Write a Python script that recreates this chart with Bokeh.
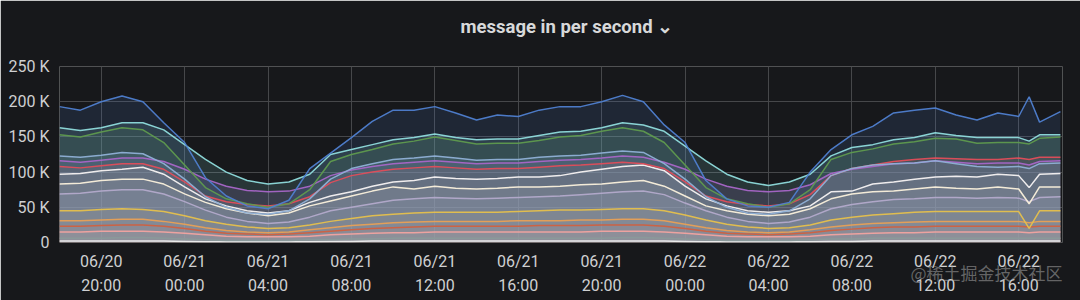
from bokeh.plotting import figure
from bokeh.models import Range1d, FixedTicker, Label
from bokeh.embed import file_html
from bokeh.resources import INLINE

# ---- data (thousands of messages / s), hours since 06/20 18:00 ----
HOURS = [0, 1, 2, 3, 4, 5, 6, 7, 8, 9, 10, 11, 12,
         13, 14, 15, 16, 17, 18, 19, 20, 21, 22, 23, 24,
         25, 26, 27, 28, 29, 30, 31, 32, 33, 34, 35, 36,
         37, 38, 39, 40, 41, 42, 43, 44, 45, 46, 46.5, 47, 48]

TICK_HOURS = [2, 6, 10, 14, 18, 22, 26, 30, 34, 38, 42, 46]
TICK_LABELS = ["06/20\n20:00", "06/21\n00:00", "06/21\n04:00", "06/21\n08:00",
               "06/21\n12:00", "06/21\n16:00", "06/21\n20:00", "06/22\n00:00",
               "06/22\n04:00", "06/22\n08:00", "06/22\n12:00", "06/22\n16:00"]
Y_TICKS = [0, 50, 100, 150, 200, 250]
Y_LABELS = ["0", "50 K", "100 K", "150 K", "200 K", "250 K"]

blue = [193, 188, 200, 208, 200, 170, 142, 92, 66, 52, 48, 60, 105,
        127, 149, 172, 188, 188, 193, 184, 174, 181, 179, 188, 193,
        193, 200, 209, 200, 167, 142, 88, 62, 52, 50, 57, 100,
        132, 153, 165, 184, 188, 191, 181, 174, 184, 179, 207, 171, 186]
teal = [163, 159, 163, 170, 170, 160, 139, 118, 100, 88, 83, 86, 97,
        125, 132, 139, 146, 149, 154, 149, 146, 147, 147, 152, 157,
        158, 163, 170, 167, 158, 137, 116, 97, 86, 81, 86, 97,
        123, 135, 139, 146, 149, 156, 152, 149, 149, 149, 144, 153, 153]
green = [153, 150, 157, 163, 160, 142, 110, 78, 62, 55, 50, 55, 75,
         115, 125, 132, 140, 144, 150, 145, 140, 141, 141, 145, 150,
         152, 158, 163, 158, 142, 110, 78, 62, 55, 50, 55, 75,
         118, 128, 133, 140, 143, 148, 147, 141, 142, 142, 140, 148, 150]
steel = [123, 121, 124, 128, 126, 112, 90, 65, 50, 42, 40, 45, 62,
         90, 105, 112, 118, 120, 123, 120, 117, 118, 118, 121, 123,
         124, 127, 130, 128, 112, 90, 65, 50, 42, 40, 45, 62,
         95, 105, 110, 112, 113, 116, 112, 108, 107, 108, 105, 112, 113]
purple = [116, 114, 117, 120, 120, 115, 104, 90, 80, 74, 72, 73, 80,
          95, 103, 108, 112, 114, 116, 114, 112, 113, 113, 115, 117,
          118, 120, 123, 121, 114, 104, 90, 80, 74, 72, 74, 82,
          98, 104, 108, 112, 113, 116, 114, 112, 113, 113, 110, 115, 116]
red = [108, 106, 109, 112, 112, 104, 86, 66, 58, 54, 52, 55, 65,
       85, 95, 100, 104, 106, 108, 106, 104, 105, 105, 107, 109,
       110, 112, 114, 112, 105, 86, 66, 58, 54, 52, 55, 68,
       95, 105, 110, 115, 118, 120, 119, 118, 118, 120, 118, 121, 121]
white1 = [97, 98, 102, 104, 107, 97, 79, 62, 52, 45, 42, 45, 57,
          66, 72, 80, 86, 88, 93, 91, 90, 91, 93, 93, 95,
          100, 104, 108, 110, 102, 80, 62, 52, 45, 43, 45, 52,
          72, 73, 83, 86, 90, 93, 94, 93, 97, 95, 78, 97, 98]
white2 = [83, 84, 88, 90, 90, 83, 69, 57, 48, 42, 38, 42, 52,
          59, 66, 73, 79, 76, 80, 77, 76, 77, 79, 79, 80,
          82, 83, 86, 88, 80, 66, 52, 45, 40, 38, 40, 48,
          62, 69, 72, 73, 76, 79, 77, 76, 79, 76, 55, 79, 79]
lavender = [69, 70, 73, 75, 75, 69, 58, 46, 36, 30, 27, 29, 36,
            45, 50, 55, 60, 62, 64, 63, 62, 63, 64, 65, 66,
            68, 70, 72, 73, 68, 56, 45, 36, 30, 27, 29, 36,
            48, 54, 58, 61, 62, 64, 64, 63, 64, 63, 58, 64, 65]
yellow = [45, 45, 47, 48, 47, 44, 38, 31, 26, 22, 20, 21, 25,
          30, 34, 38, 40, 42, 43, 43, 43, 43, 44, 45, 46,
          46, 47, 48, 48, 45, 39, 32, 26, 22, 20, 21, 25,
          32, 36, 39, 41, 43, 44, 44, 44, 44, 44, 20, 45, 45]
orange = [31, 31, 32, 33, 33, 30, 26, 21, 17, 15, 14, 15, 18,
          21, 24, 26, 28, 29, 30, 30, 30, 30, 31, 31, 31,
          32, 32, 33, 33, 31, 26, 21, 17, 15, 14, 15, 18,
          22, 25, 27, 28, 29, 30, 30, 30, 30, 30, 28, 30, 30]
brick = [23, 23, 24, 25, 25, 23, 20, 16, 13, 12, 11, 12, 14,
         16, 18, 20, 21, 22, 23, 23, 23, 23, 23, 24, 24,
         24, 25, 25, 25, 23, 20, 16, 13, 12, 11, 12, 14,
         17, 19, 21, 22, 22, 23, 23, 23, 23, 23, 22, 23, 23]
salmon = [15, 15, 16, 16, 16, 15, 13, 11, 9, 8, 8, 8, 9,
          11, 12, 13, 14, 14, 15, 15, 15, 15, 15, 15, 15,
          15, 16, 16, 16, 15, 13, 11, 9, 8, 8, 8, 9,
          11, 12, 13, 14, 14, 15, 15, 15, 15, 15, 14, 15, 15]
gray = [6, 6, 6, 7, 7, 6, 5, 4, 3, 3, 3, 3, 4,
        4, 5, 5, 6, 6, 6, 6, 6, 6, 6, 6, 6,
        6, 6, 7, 7, 6, 5, 4, 3, 3, 3, 3, 4,
        5, 5, 6, 6, 6, 6, 6, 6, 6, 6, 6, 6, 6]
base = [2, 2, 2, 2, 2, 2, 1.5, 1, 1, 1, 1, 1, 1,
        1.5, 1.5, 2, 2, 2, 2, 2, 2, 2, 2, 2, 2,
        2, 2, 2, 2, 2, 1.5, 1, 1, 1, 1, 1, 1,
        1.5, 1.5, 2, 2, 2, 2, 2, 2, 2, 2, 2, 2, 2]

# drawing order: bottom first, top line last
SERIES = [
    (base, "#eeeeee"), (gray, "#8a9a9a"), (salmon, "#f2a3a0"), (brick, "#d0603f"),
    (orange, "#e8a055"), (yellow, "#e6c04c"), (lavender, "#b3aacb"),
    (white2, "#fbf1dc"), (white1, "#f7f3f3"), (red, "#e24d5a"),
    (purple, "#a866c8"), (steel, "#8fb0d6"), (green, "#5f9a4e"),
    (teal, "#8fdcdc"), (blue, "#4f7fd0"),
]

BG = "#17181b"
TXT = "#cfd0d2"
GRID = "#46474a"

p = figure(width=1080, height=300, output_backend="svg", toolbar_location=None,
           x_range=Range1d(0, 48.1), y_range=Range1d(0, 250),
           min_border_left=59, min_border_right=18, min_border_top=66,
           min_border_bottom=56, background_fill_color=BG,
           border_fill_color=BG, outline_line_color=None)

for vals, col in SERIES:
    p.varea(x=HOURS, y1=0, y2=vals, fill_color=col, fill_alpha=0.15)
for vals, col in SERIES:
    p.line(x=HOURS, y=vals, line_color=col, line_width=1.5, line_alpha=0.95)

p.xaxis.ticker = FixedTicker(ticks=TICK_HOURS)
p.xaxis.major_label_overrides = {t: l for t, l in zip(TICK_HOURS, TICK_LABELS)}
p.yaxis.ticker = FixedTicker(ticks=Y_TICKS)
p.yaxis.major_label_overrides = {t: l for t, l in zip(Y_TICKS, Y_LABELS)}

for ax in (p.xaxis[0], p.yaxis[0]):
    ax.axis_line_color = None
    ax.major_tick_line_color = None
    ax.minor_tick_line_color = None
    ax.major_label_text_color = TXT
    ax.major_label_text_font = "Roboto"
    ax.major_label_text_font_size = "16px"
p.xaxis.major_label_text_line_height = 1.28
p.xaxis.major_label_standoff = 3
p.yaxis.major_label_standoff = 4

p.xgrid.grid_line_color = GRID
p.ygrid.grid_line_color = GRID

# watermark via the x axis label, pulled up over the tick labels
xax = p.xaxis[0]
xax.axis_label = "@稀土掘金技术社区"
xax.axis_label_standoff = -25
xax.axis_label_text_font = "Noto Sans CJK SC"
xax.axis_label_text_font_size = "17px"
xax.axis_label_text_font_style = "normal"
xax.axis_label_text_color = "#a8a8a8"
xax.axis_label_text_alpha = 0.55
if "axis_label_align" in xax.properties():
    xax.axis_label_align = "end"
xax.axis_label_orientation = 0.0001

title = Label(x=401, y=40, x_units="screen", y_units="screen",
              text="message in per second  ⌄", text_font="Roboto",
              text_font_style="bold", text_font_size="18.5px", text_color="#d8d9da",
              text_baseline="alphabetic", text_align="left")
p.add_layout(title, "above")

open("out.html", "w").write(file_html(p, INLINE))
